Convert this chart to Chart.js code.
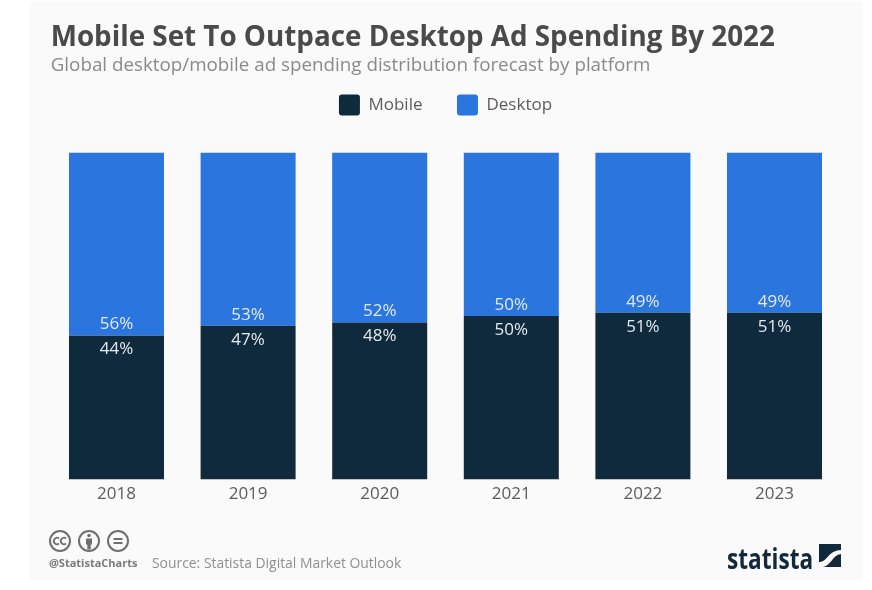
<!DOCTYPE html>
<html><head><meta charset="utf-8">
<script src="https://cdn.jsdelivr.net/npm/chart.js@4"></script>
<style>
html,body{margin:0;padding:0;background:#fff;width:872px;height:590px;overflow:hidden;font-family:"Open Sans",sans-serif}
#panel{position:absolute;left:30px;top:2px;width:832px;height:578px;background:#fafafa}
canvas{position:absolute;left:0;top:0}
.t{position:absolute;white-space:nowrap}
</style></head><body>
<div id="panel"></div>
<canvas id="c" width="872" height="590"></canvas>
<svg class="t" style="left:49px;top:530px" width="82" height="26" viewBox="0 0 82 26" fill="none" stroke="#6f6f6f" stroke-width="2">
<circle cx="11" cy="11" r="10"/><circle cx="40" cy="11" r="10"/><circle cx="69" cy="11" r="10"/>
<path d="M10 8.500a3.200 3.200 0 1 0 0 5M17 8.500a3.200 3.200 0 1 0 0 5" stroke-width="1.800"/>
<circle cx="40" cy="5.500" r="1.800" fill="#6f6f6f" stroke="none"/><path d="M37 8.500h6v6h-1.300v5h-3.400v-5H37z" fill="#6f6f6f" stroke="none"/>
<path d="M64.500 9h9M64.500 13h9"/></svg>
<div class="t" style="left:49px;top:555px;font-size:11px;font-weight:700;color:#7a7a7a">@StatistaCharts</div>
<div class="t" style="left:152px;top:553px;font-size:13.9px;color:#8f8f8f">Source: Statista Digital Market Outlook</div>
<div class="t" style="left:727px;top:538px;font-size:29px;font-weight:700;color:#12293c;transform:scaleX(.78);transform-origin:left top">statista</div>
<svg class="t" style="left:819px;top:544px" width="22" height="23" viewBox="0 0 22 23"><rect width="22" height="23" fill="#12293c"/><path d="M0 18C9 18 8 7 22 6V10C13 11 13 21 4 23H0z" fill="#fafafa"/></svg>
<script>
const categories = ["2018","2019","2020","2021","2022","2023"];
const mobile = [44,47,48,50,51,51];
const desktop = [56,53,52,50,49,49];
const seriesNames = ["Mobile","Desktop"];
const titleText = "Mobile Set To Outpace Desktop Ad Spending By 2022";
const subtitleText = "Global desktop/mobile ad spending distribution forecast by platform";
const pct = {
  id:"pct",
  beforeInit(ch){
    const fit = ch.legend.fit;
    ch.legend.fit = function(){ fit.call(this); this.height += 27; };
  },
  afterDatasetsDraw(ch){
    const c=ch.ctx; c.save();
    c.font='17px "Open Sans"'; c.fillStyle="#e4e9ee"; c.textAlign="center"; c.textBaseline="middle";
    ch.getDatasetMeta(0).data.forEach((b,i)=>{ c.fillText(mobile[i]+"%",b.x,b.y+14); });
    ch.getDatasetMeta(1).data.forEach((b,i)=>{ c.fillText(desktop[i]+"%",b.x,b.base-11); });
    c.restore();
  }
};
new Chart(document.getElementById("c"),{
  type:"bar",
  data:{labels:categories,datasets:[
    {label:seriesNames[0],data:mobile,backgroundColor:"#0f2a3d",barPercentage:0.722,categoryPercentage:1},
    {label:seriesNames[1],data:desktop,backgroundColor:"#2a75de",barPercentage:0.722,categoryPercentage:1}
  ]},
  options:{
    responsive:false,animation:false,devicePixelRatio:1,
    layout:{padding:{left:50.7,right:31.7,top:21,bottom:90}},
    scales:{
      x:{stacked:true,grid:{display:false},border:{display:false},ticks:{color:"#5c5c5c",font:{family:"Open Sans",size:17},padding:-4,maxRotation:0}},
      y:{stacked:true,display:false,min:0,max:100}
    },
    plugins:{
      title:{display:true,text:titleText,align:"start",color:"#4a4a4a",font:{family:"Open Sans",size:27.8,weight:"700"},padding:{top:0,bottom:0}},
      subtitle:{display:true,text:subtitleText,align:"start",color:"#8a8a8a",font:{family:"Open Sans",size:18.8,weight:"400"},padding:{top:0,bottom:-17}},
      legend:{position:"top",labels:{boxWidth:21,boxHeight:21,useBorderRadius:true,borderRadius:3,padding:34.5,color:"#5c5c5c",font:{family:"Open Sans",size:17}}},
      tooltip:{enabled:false}
    }
  },
  plugins:[pct]
});
</script>
</body></html>
